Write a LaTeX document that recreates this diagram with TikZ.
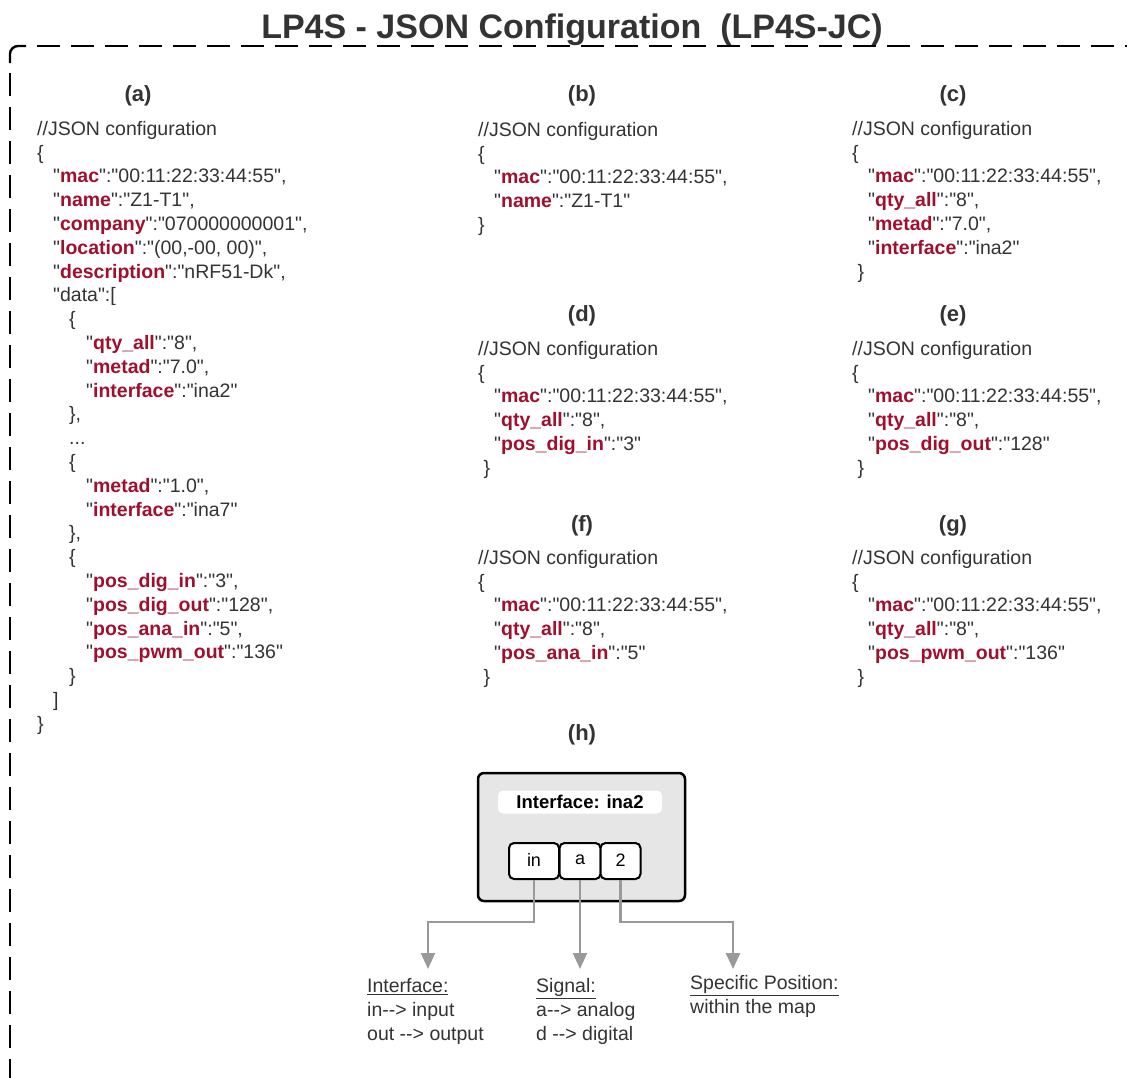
\documentclass[tikz,border=0pt]{standalone}
\usepackage{fontspec}
\setmainfont{Liberation Sans}
% plain family without TeX quote ligatures, so " stays a straight quote
\newfontfamily\plainsans{Liberation Sans}
\usetikzlibrary{arrows.meta}

\definecolor{txt}{HTML}{333333}
\definecolor{keyred}{RGB}{160,16,46}
\definecolor{boxgray}{HTML}{E6E6E6}
\definecolor{linkgray}{HTML}{999999}

% a JSON key: bold and red
\newcommand\jk[1]{\textcolor{keyred}{\textbf{#1}}}
% indentation steps of the listings
\newcommand\indA{\hspace*{16pt}}
\newcommand\indB{\hspace*{32pt}}
\newcommand\indC{\hspace*{49pt}}
\newcommand\indS{\hspace*{5.5pt}}
% fixed height of a listing's first line
\newcommand\firstline{\rule{0pt}{16pt}}

\tikzset{
  x=1pt, y=-1pt,
  code/.style={anchor=north west, inner sep=0pt, align=left, text=txt,
    font=\plainsans\fontsize{19.5}{23.8}\selectfont},
  heading/.style={inner sep=0pt, text=txt, font=\plainsans\fontsize{22}{26}\selectfont\bfseries},
  frame/.style={draw=black, line width=2.4pt, dash pattern=on 23pt off 11pt},
  corner/.style={draw=black, line width=2.4pt, rounded corners=8pt},
  outerbox/.style={draw=black, fill=boxgray, line width=2.5pt, rounded corners=6pt,
    minimum width=207pt, minimum height=128pt, inner sep=0pt},
  namebox/.style={fill=white, rounded corners=5pt, minimum width=164pt, minimum height=23pt,
    inner sep=0pt, font=\plainsans\fontsize{18.5}{21}\selectfont\bfseries},
  cell/.style={draw=black, fill=white, line width=2pt, rounded corners=5pt,
    minimum height=36pt, inner sep=0pt, font=\plainsans\fontsize{18}{20}\selectfont},
  link/.style={draw=linkgray, line width=2.5pt,
    -{Triangle[width=14pt,length=16pt,fill=linkgray]}},
  legend/.style={anchor=north west, inner sep=0pt, align=left, text=txt,
    font=\plainsans\fontsize{19.5}{24}\selectfont},
}

\begin{document}
\begin{tikzpicture}
\useasboundingbox (0,0) rectangle (1127,1077);

% title and dashed frame
\node[text=txt, font=\plainsans\fontsize{34}{40}\selectfont\bfseries] (title) at (572,30)
  {LP4S - JSON Configuration\ \ (LP4S-JC)};
\coordinate (cornerDown) at (10,63);
\coordinate (cornerRight) at (26,46);
\coordinate (leftStart) at (10,73);
\coordinate (frameBottom) at (10,1100);
\coordinate (topStart) at (37,46);
\coordinate (frameRight) at (1150,46);
\draw[corner] (cornerDown) |- (cornerRight);
\draw[frame] (leftStart) -- (frameBottom);
\draw[frame] (topStart) -- (frameRight);

% headings
\node[heading] (ha) at (138,96) {(a)};
\node[heading] (hb) at (582,96) {(b)};
\node[heading] (hc) at (953,96) {(c)};
\node[heading] (hd) at (582,316) {(d)};
\node[heading] (he) at (953,316) {(e)};
\node[heading] (hf) at (582,526) {(f)};
\node[heading] (hg) at (953,526) {(g)};
\node[heading] (hh) at (582,735) {(h)};

% (a) full configuration
\node[code] (codeA) at (37,119) {%
\firstline//JSON configuration\\
\{\\
\indA"\jk{mac}":"00:11:22:33:44:55",\\
\indA"\jk{name}":"Z1-T1",\\
\indA"\jk{company}":"070000000001",\\
\indA"\jk{location}":"(00,-00, 00)",\\
\indA"\jk{description}":"nRF51-Dk",\\
\indA"data":[\\
\indB\{\\
\indC"\jk{qty\_all}":"8",\\
\indC"\jk{metad}":"7.0",\\
\indC"\jk{interface}":"ina2"\\
\indB\},\\
\indB...\\
\indB\{\\
\indC"\jk{metad}":"1.0",\\
\indC"\jk{interface}":"ina7"\\
\indB\},\\
\indB\{\\
\indC"\jk{pos\_dig\_in}":"3",\\
\indC"\jk{pos\_dig\_out}":"128",\\
\indC"\jk{pos\_ana\_in}":"5",\\
\indC"\jk{pos\_pwm\_out}":"136"\\
\indB\}\\
\indA]\\
\}};

% (b)
\node[code] (codeB) at (478,120) {%
\firstline//JSON configuration\\
\{\\
\indA"\jk{mac}":"00:11:22:33:44:55",\\
\indA"\jk{name}":"Z1-T1"\\
\}};

% (c)
\node[code] (codeC) at (852,119) {%
\firstline//JSON configuration\\
\{\\
\indA"\jk{mac}":"00:11:22:33:44:55",\\
\indA"\jk{qty\_all}":"8",\\
\indA"\jk{metad}":"7.0",\\
\indA"\jk{interface}":"ina2"\\
\indS\}};

% (d)
\node[code] (codeD) at (478,339) {%
\firstline//JSON configuration\\
\{\\
\indA"\jk{mac}":"00:11:22:33:44:55",\\
\indA"\jk{qty\_all}":"8",\\
\indA"\jk{pos\_dig\_in}":"3"\\
\indS\}};

% (e)
\node[code] (codeE) at (852,339) {%
\firstline//JSON configuration\\
\{\\
\indA"\jk{mac}":"00:11:22:33:44:55",\\
\indA"\jk{qty\_all}":"8",\\
\indA"\jk{pos\_dig\_out}":"128"\\
\indS\}};

% (f)
\node[code] (codeF) at (478,548) {%
\firstline//JSON configuration\\
\{\\
\indA"\jk{mac}":"00:11:22:33:44:55",\\
\indA"\jk{qty\_all}":"8",\\
\indA"\jk{pos\_ana\_in}":"5"\\
\indS\}};

% (g)
\node[code] (codeG) at (852,548) {%
\firstline//JSON configuration\\
\{\\
\indA"\jk{mac}":"00:11:22:33:44:55",\\
\indA"\jk{qty\_all}":"8",\\
\indA"\jk{pos\_pwm\_out}":"136"\\
\indS\}};

% (h) interface name decomposition
\node[outerbox] (ifbox) at (581.5,837) {};
\node[namebox] (ifname) at (580,802) {Interface: ina2};
\node[cell, minimum width=50pt] (cellIn) at (534,861) {\raisebox{2pt}{in}};
\node[cell, minimum width=41pt] (cellA) at (580,861) {\raisebox{2pt}{a}};
\node[cell, minimum width=40pt] (cellNum) at (620.5,861) {\raisebox{2pt}{2}};

% legends
\node[legend] (legIf) at (367,978) {\underline{Interface:}\\in-{}-> input\\out -{}-> output};
\node[legend] (legSig) at (536,978) {\underline{Signal:}\\a-{}-> analog\\d -{}-> digital};
\node[legend] (legPos) at (690,975) {\underline{Specific Position:}\\within the map};

% connectors
\coordinate (elbowIf) at (428,922);
\coordinate (tipIf) at (428,969);
\coordinate (tipSig) at (cellA.south |- tipIf);
\coordinate (elbowPos) at (733,922);
\coordinate (tipPos) at (733,969);
\draw[link] (cellIn.south) |- (elbowIf) -- (tipIf);
\draw[link] (cellA.south) -- (tipSig);
\draw[link] (cellNum.south) |- (elbowPos) -- (tipPos);

\end{tikzpicture}
\end{document}
